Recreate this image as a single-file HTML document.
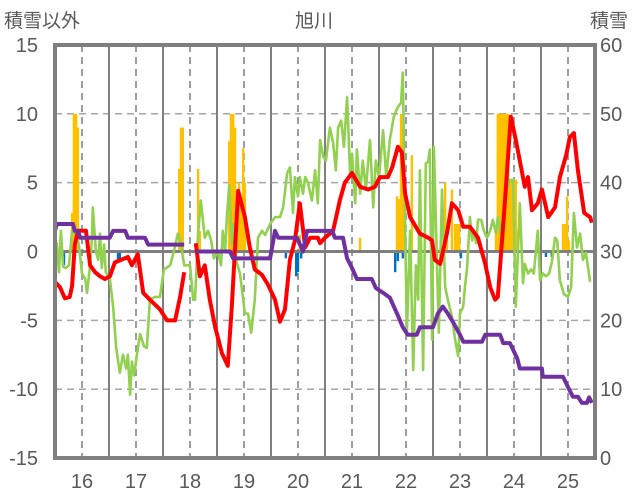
<!DOCTYPE html>
<html><head><meta charset="utf-8"><style>
html,body{margin:0;padding:0;background:#fff;width:636px;height:501px;overflow:hidden}
svg{display:block;font-family:"Liberation Sans","Noto Sans CJK JP",sans-serif}
</style></head><body>
<svg id="chart" width="636" height="501" viewBox="0 0 636 501">
<text x="4" y="27" font-size="19" fill="#595959">積雪以外</text>
<text x="314" y="27" font-size="19" fill="#595959" text-anchor="middle">旭川</text>
<text x="590" y="27" font-size="19" fill="#595959">積雪</text>
<g id="grid"></g><g id="bars"></g><g id="lines"></g><g id="frame"></g><g id="labels"></g>
</svg>
<script>
const leftTicks=[15,10,5,0,-5,-10,-15];
const rightTicks=[60,50,40,30,20,10,0];
const yearLabels=["16","17","18","19","20","21","22","23","24","25"];
const redMonths=[0,1.1,2.2,3.3,3.8,4.4,5.1,6,6.9,7.8,8.9,10,11.1,12.2,13.3,16.2,17.1,18.4,19.6,21.1,23.3,24.9,26.7,27.8,28.7,30,31.3,32.2,33.3,34.4,35.6,37.1,38.4,39.3,40.7,42.2,43.3,44.4,46,47.3,48.9,50,51.1,52.2,53.3,54.4,55.6,56.7,58.4,58.9,60,61.8,63.3,64.4,66,67.8,69.6,71.1,72.2,74,74.9,76.2,77.1,77.8,78.9,81.1,82.9,83.8,84.4,85.6,87.1,88.2,89.6,90.7,92.2,94,95.6,96.7,97.8,98.4,100,101.3,102.4,103.3,104.4,105.1,106,107.3,108.2,109.6,111.1,112.2,113.6,114.4,115.3,116.2,117.6,118.9,119.3];
const redValues=[-2.2,-2.6,-3.4,-3.3,-2.5,0.5,1.5,1.5,1.5,-1,-1.5,-1.8,-2,-1.8,-0.8,-0.4,-1,-0.2,-3,-3.5,-4.2,-5,-5,-3.3,-1.5,null,0.6,-1.8,-1,-3.5,-5.5,-7.4,-8.3,-4,4.4,2.5,0.3,-1.3,-1.7,-2.4,-3.5,-5.1,-4.2,-0.6,0.8,3.5,0.3,1,1,0.6,1,1.5,3.7,5,5.7,4.7,4.5,4.7,5.4,5.4,6.1,7.6,7.2,4.2,2.5,1.3,1,0.8,-0.6,-0.9,1.3,3.5,3,1.8,1.8,1,-0.9,-2.6,-3.5,-3.3,3.7,9.8,8.1,6.6,4.7,5.4,3,3.5,4.5,2.5,3.2,5.4,7,8.3,8.6,5.9,2.8,2.5,2.1];
const greenMonths=[0,0.4,0.9,1.3,1.8,2.4,3.1,3.8,4.7,5.3,6,6.7,7.1,7.8,8.2,8.4,9.1,9.6,10,10.4,10.9,11.3,12.2,12.9,13.6,14.4,15.1,15.8,16.2,16.7,17.1,17.6,18.2,18.9,19.8,20.4,21.1,22.2,23.3,24.2,25.6,26.4,27.3,28,28.7,30,30.7,31.1,31.8,32.4,33.3,34,34.7,35.3,36.2,36.9,37.3,37.8,38.2,38.7,39.3,39.6,40.2,41.1,42.2,42.9,43.6,44.4,45.1,46,46.7,47.8,48.9,50,50.7,51.6,52.2,52.9,53.3,54,54.4,55.1,55.6,56.2,57.1,57.8,58.4,58.9,59.6,60.2,61.1,61.8,62.4,62.9,63.6,64.2,64.9,65.6,66,66.7,67.1,67.8,68.4,69.1,70,70.7,71.3,72,72.9,73.6,74.4,75.3,76.2,76.9,77.3,77.8,78.2,78.9,79.6,80.2,80.7,81.1,81.8,82.4,82.9,83.3,83.8,84.2,84.7,85.3,86,86.7,87.3,88.2,88.9,89.6,90,90.7,91.1,91.6,92.2,92.7,93.1,93.6,94,94.7,95.3,96,96.7,97.3,98,98.4,99.1,100,100.9,101.8,102.4,103.3,104,104.4,105.1,105.8,106.4,107.3,107.8,108.4,109.1,109.8,110.4,111.1,111.6,112.2,113.1,114,114.7,115.3,116,116.7,117.3,118,118.9];
const greenValues=[-2,0.6,-1.5,1.5,-1.1,-1.2,-1,1.5,1.3,0.5,-1.6,-2,-3,-1,1,3.2,0,-0.6,1.3,-1.2,0.5,-1.5,-2,-4,-7,-8.8,-7.5,-8.5,-7.5,-10.4,-8,-9,-7.5,-6,-6.9,-7,-3.5,-3.3,-3.3,-1.3,-1,0,1.3,0.5,-1,-1,-3.5,-3.5,1.3,3.7,1,1.5,0.8,-0.5,0,-1,1.5,0,2.5,4.8,0.5,2,-0.6,-1.6,-4.5,-4.5,-5.9,-3.5,1,1.5,1.2,2,2.5,2.5,3.2,5.7,6.1,2.8,5.4,4,5.4,4.2,5.4,5,3.7,5.9,3.5,8.1,6.9,6.6,9,7.9,5.9,9,9.5,7.6,11.2,5.4,7.1,3.5,7.4,4.2,6.6,4.5,8.1,3.2,6.6,5.4,8.8,5.4,8.1,9.8,10.5,10.8,13,1.8,-5.9,1.5,-8.6,-1,-3.5,5.9,-8.6,6.4,6.5,7.4,-6.4,7.6,1.3,-5.9,4.5,-2.6,-3.5,-4.7,-6.4,-7.6,-4.5,-4,-2.6,-1.1,2.5,0.8,1.5,0.6,2.3,2.3,1.5,1,1.5,2.3,1.3,2.5,1.3,3.7,5.2,5.2,-4,3.5,-2.3,-0.9,-1.6,-1.3,-1.6,1.5,-2.1,-1.6,-1.8,-1.6,-0.8,1,0.8,-2.1,-3.1,-3.3,-2.6,2.8,0.3,1.3,-0.6,-0.1,-2.2];
const snowMonths=[0,0.4,4,4.4,5.1,5.6,12.2,12.9,15.6,16.2,20,20.7,28.7,30,31.3,38.9,39.6,47.8,48.9,49.6,53.8,55.1,56,61.6,62.2,64,64.9,66,67.1,70.4,71.3,72.9,74.4,76,77.3,78.4,80.4,81.1,84,85.1,86.2,87.3,88.4,90,90.7,94.9,95.6,98.9,99.6,101.1,102.7,103.3,108.2,108.4,112.9,114,115.1,116.2,117.1,118.2,118.7,119.3];
const snowValues=[33,34,34,33,33,32,32,33,33,32,32,31,31,null,30,30,29,29,33,32,32,30,33,33,32,32,29,27.6,26,26,24.7,24,23.3,21,19,17.9,17.9,19,19,21,22,21,19.8,17.9,16.9,16.9,17.9,17.9,16.7,16.7,14.5,13,13,11.8,11.8,10.3,8.9,8.9,8,8,8.8,8];
const posBarMonths=[3.8,4.2,4.7,5.1,27.6,28,28.4,31.8,32.2,38.7,39.1,39.6,40,40.4,40.9,41.3,41.8,42.2,54.4,67.8,76,76.4,76.9,77.3,77.8,79.3,86.7,87.1,88.2,88.9,89.3,89.8,98,98.4,98.9,99.3,99.8,100.2,100.7,101.1,101.6,102,102.4,102.9,112.9,113.3,113.8,114.2];
const posBarValues=[2.8,10,10,9,6,9,9,6,1.5,8,10,10,9,3,5,4,7.5,5,1.2,1,4,3.8,10,9,1.8,7,5,1.5,4.5,2,2,2,1.3,10,10,10,10,10,10,5.2,5.2,5.2,5.2,1.5,2,2,4,0.8];
const negBarMonths=[2,14,14.4,51.3,53.6,54,54.7,75.6,76.2,77.3,84.7,90.2,109.1,110.4];
const negBarValues=[-1,-0.7,-0.7,-0.5,-1.8,-1.5,-0.5,-1.5,-0.7,-0.5,-0.5,-0.5,-0.4,-0.4];

const NS="http://www.w3.org/2000/svg";
const X0=55,X1=595,Y0=45,Y1=458;
const xs=m=>X0+m*4.5;
const yl=v=>251.5-v*13.77;
const yr=s=>Y1-s*6.883;
function mk(tag,attrs,parent){const e=document.createElementNS(NS,tag);for(const k in attrs)e.setAttribute(k,attrs[k]);document.getElementById(parent).appendChild(e);return e;}

// grid
leftTicks.forEach(v=>{
  if(v===15||v===-15||v===0)return;
  const g=mk('line',{x1:X0,x2:X1,y1:yl(v),y2:yl(v),stroke:'#a6a6a6','stroke-width':1.5,'stroke-dasharray':'7,5'},'grid');
  
  
});
for(let i=0;i<10;i++){
  const d=mk('line',{x1:xs(6+12*i),x2:xs(6+12*i),y1:Y0,y2:Y1,stroke:'#7f7f7f','stroke-width':1.5,'stroke-dasharray':'7,5'},'grid');
  
  
  if(i<9){
    const s=mk('line',{x1:xs(12+12*i),x2:xs(12+12*i),y1:Y0,y2:Y1,stroke:'#7f7f7f','stroke-width':2},'grid');
    
    
  }
}
// bars
posBarMonths.forEach((m,i)=>{
  const v=posBarValues[i];
  const r=mk('rect',{x:xs(m)-1.2,y:yl(v),width:2.4,height:yl(0)-yl(v),fill:'#ffc000'},'bars');
  
  
});
negBarMonths.forEach((m,i)=>{
  const v=negBarValues[i];
  const r=mk('rect',{x:xs(m)-1.2,y:yl(0),width:2.4,height:yl(v)-yl(0),fill:'#0070c0'},'bars');
  
  
});
const zl=mk('line',{x1:X0,x2:X1,y1:yl(0),y2:yl(0),stroke:'#7f7f7f','stroke-width':3},'bars');


function pathOf(ms,vs,f){let d='',pen=false;ms.forEach((m,i)=>{const v=vs[i];if(v===null){pen=false;return;}d+=(pen?'L':'M')+xs(m).toFixed(1)+','+f(v).toFixed(1);pen=true;});return d;}
const gp=mk('path',{d:pathOf(greenMonths,greenValues,yl),fill:'none',stroke:'#92d050','stroke-width':2.6,'stroke-linejoin':'round'},'lines');


const rp=mk('path',{d:pathOf(redMonths,redValues,yl),fill:'none',stroke:'#ff0000','stroke-width':4,'stroke-linejoin':'round'},'lines');


const pp=mk('path',{d:pathOf(snowMonths,snowValues,yr),fill:'none',stroke:'#7030a0','stroke-width':4,'stroke-linejoin':'round'},'lines');


const fr=mk('rect',{x:X0,y:Y0,width:X1-X0,height:Y1-Y0,fill:'none',stroke:'#7f7f7f','stroke-width':4},'frame');


// labels
leftTicks.forEach(v=>{
  const t=mk('text',{x:38,y:yl(v)+7,'font-size':20,fill:'#595959','text-anchor':'end'},'labels');
  t.textContent=String(v);
  
  
});
rightTicks.forEach(s=>{
  const t=mk('text',{x:600,y:yr(s)+7,'font-size':20,fill:'#595959'},'labels');
  t.textContent=String(s);
  
  
});
yearLabels.forEach((l,i)=>{
  const t=mk('text',{x:xs(6+12*i),y:488,'font-size':20,fill:'#595959','text-anchor':'middle'},'labels');
  t.textContent=l;
  
  
});
</script>
</body></html>
